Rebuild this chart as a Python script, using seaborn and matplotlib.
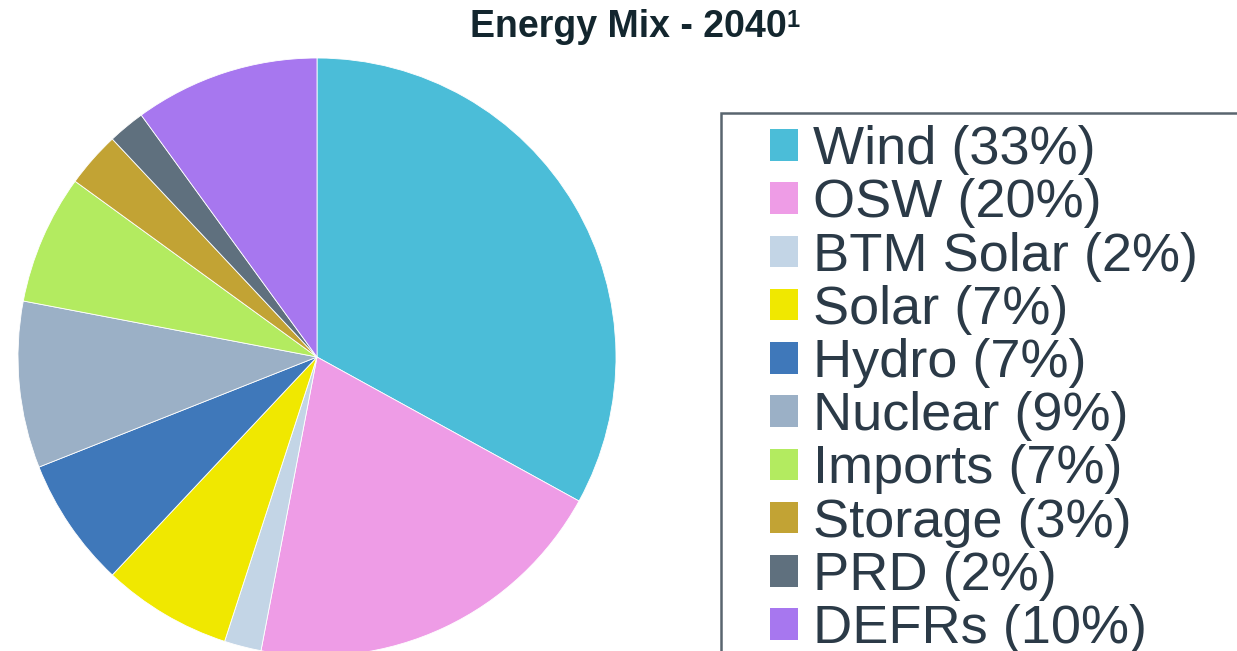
import matplotlib.pyplot as plt
import seaborn as sns
from matplotlib.patches import Patch, Rectangle

# Energy mix 2040 shares (percent)
sources = ["Wind", "OSW", "BTM Solar", "Solar", "Hydro", "Nuclear",
           "Imports", "Storage", "PRD", "DEFRs"]
shares = [33, 20, 2, 7, 7, 9, 7, 3, 2, 10]
colors = ["#4BBDD8", "#EE9CE6", "#C3D5E6", "#F0E800", "#3F78BA",
          "#9BB0C6", "#B3EB60", "#C2A334", "#5F707E", "#A777EF"]

sns.set_theme(style="white")
plt.rcParams["font.family"] = ["Liberation Sans", "DejaVu Sans"]

W, H = 1237, 651
fig = plt.figure(figsize=(W / 100, H / 100), dpi=100)

# pie axes placed so the circle sits at the same pixel spot as the original
cx, cy, r = 317, 357, 299
ax = fig.add_axes([(cx - r) / W, (H - cy - r) / H, 2 * r / W, 2 * r / H])
ax.pie(shares, colors=colors, startangle=90, counterclock=False,
       wedgeprops=dict(edgecolor="white", linewidth=0.6))
ax.set_xlim(-1, 1)
ax.set_ylim(-1, 1)

# title with footnote marker
fig.text(628 / W, 1 - 37 / H, "Energy Mix - 2040", ha="center", va="baseline",
         fontsize=27, fontweight="bold", color="#13262E")
fig.text(787 / W, 1 - 9 / H, "1", ha="left", va="top",
         fontsize=17, fontweight="bold", color="#13262E")

# legend
labels = [f"{s} ({v}%)" for s, v in zip(sources, shares)]
handles = [Patch(facecolor=c, edgecolor="none") for c in colors]
fig.legend(handles, labels, loc="upper left",
           bbox_to_anchor=(770 / W, 1 - 125 / H), frameon=False,
           fontsize=39, labelcolor="#2B3A47", borderpad=0, borderaxespad=0,
           handlelength=0.52, handleheight=0.52, handletextpad=0.28,
           labelspacing=0.06)
fig.patches.append(Rectangle((721 / W, -0.1), 0.5, 1 - 113 / H + 0.1,
                             transform=fig.transFigure, fill=False,
                             edgecolor="#59656F", linewidth=1.8))

fig.savefig("out.png", dpi=100)
